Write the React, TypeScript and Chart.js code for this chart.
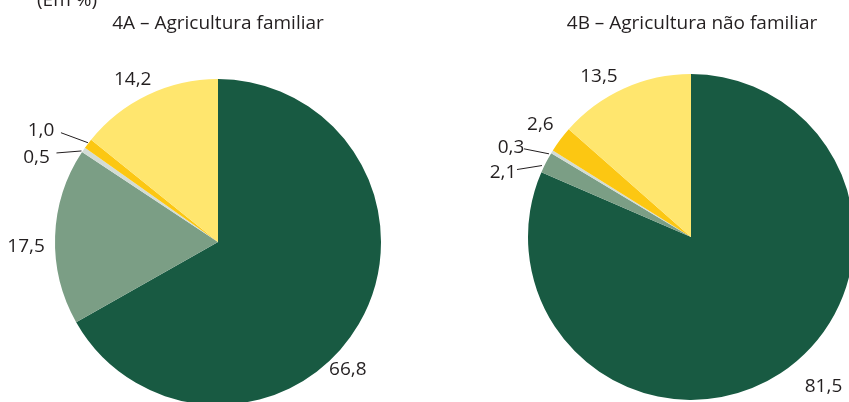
import React, { useEffect, useRef } from "react";
import { Chart, registerables } from "chart.js";

Chart.register(...registerables);

const categories = ["Cat. 1", "Cat. 2", "Cat. 3", "Cat. 4", "Cat. 5"];
const valuesA = [66.8, 17.5, 0.5, 1.0, 14.2];
const valuesB = [81.5, 2.1, 0.3, 2.6, 13.5];
const titleA = "4A – Agricultura familiar";
const titleB = "4B – Agricultura não familiar";
const unitLabel = "(Em %)";
const colors = ["#185a42", "#7b9e85", "#d3dcd5", "#fcc712", "#ffe66e"];

type LabelPos = { dx: number; dy: number; lx?: number; ly?: number; ex?: number; ey?: number };

// offsets of labels from the slice's outer edge midpoint
const labelPosA: LabelPos[] = [
  { dx: -11, dy: 46 },
  { dx: -29, dy: 10 },
  { dx: -47, dy: 8, lx: -27, ly: 3, ex: -2, ey: 1 },
  { dx: -47, dy: -13, lx: -27, ly: -11, ex: 0, ey: -1 },
  { dx: -15, dy: -15 },
];
const labelPosB: LabelPos[] = [
  { dx: 43, dy: 13 },
  { dx: -43, dy: 10, lx: -29, ly: 7, ex: -4, ey: 3 },
  { dx: -41, dy: -4, lx: -28, ly: -3, ex: -3, ey: 2 },
  { dx: -20, dy: -15 },
  { dx: -25, dy: -12 },
];

const FONT = "'Open Sans', sans-serif";
const fmt = (v: number) => v.toFixed(1).replace(".", ",");

function makeLabelPlugin(pos: LabelPos[]) {
  return {
    id: "sliceLabels",
    afterDraw(chart: any) {
      const ctx = chart.ctx;
      const meta = chart.getDatasetMeta(0);
      const data = chart.data.datasets[0].data as number[];
      ctx.save();
      ctx.font = "19px " + FONT;
      ctx.fillStyle = "#231f20";
      ctx.textAlign = "center";
      ctx.textBaseline = "middle";
      meta.data.forEach((arc: any, i: number) => {
        const mid = (arc.startAngle + arc.endAngle) / 2;
        const ex = arc.x + Math.cos(mid) * arc.outerRadius;
        const ey = arc.y + Math.sin(mid) * arc.outerRadius;
        const p = pos[i];
        ctx.fillText(fmt(data[i]), ex + p.dx, ey + p.dy);
        if (p.lx !== undefined) {
          ctx.beginPath();
          ctx.strokeStyle = "#231f20";
          ctx.lineWidth = 1;
          ctx.moveTo(ex + (p.lx as number), ey + (p.ly as number));
          ctx.lineTo(ex + (p.ex as number), ey + (p.ey as number));
          ctx.stroke();
        }
      });
      ctx.restore();
    },
  };
}

function PieChart(props: { values: number[]; pos: LabelPos[]; padding: any; width: number; height: number }) {
  const ref = useRef<HTMLCanvasElement>(null);
  useEffect(() => {
    if (!ref.current) return;
    const chart = new Chart(ref.current, {
      type: "pie",
      data: {
        labels: categories,
        datasets: [
          {
            data: props.values,
            backgroundColor: colors,
            borderWidth: 0,
          },
        ],
      },
      options: {
        animation: false,
        responsive: false,
        maintainAspectRatio: false,
        layout: { padding: props.padding },
        plugins: { legend: { display: false }, tooltip: { enabled: false }, title: { display: false } },
      },
      plugins: [makeLabelPlugin(props.pos)],
    });
    return () => chart.destroy();
  }, []);
  return <canvas ref={ref} width={props.width} height={props.height} style={{ width: props.width, height: props.height, display: "block" }} />;
}

export default function App() {
  const textStyle: React.CSSProperties = {
    position: "absolute",
    fontFamily: FONT,
    fontSize: 19,
    color: "#231f20",
    whiteSpace: "nowrap",
    lineHeight: "20px",
  };
  return (
    <div style={{ position: "fixed", left: 0, top: 0, width: 849, height: 402, overflow: "hidden", background: "#fff" }}>
      <div style={{ position: "absolute", left: 0, top: 0 }}>
        <PieChart values={valuesA} pos={labelPosA} width={424} height={420} padding={{ left: 55, right: 43, top: 79, bottom: 15 }} />
      </div>
      <div style={{ position: "absolute", left: 425, top: 0 }}>
        <PieChart values={valuesB} pos={labelPosB} width={440} height={420} padding={{ left: 103, right: 11, top: 74, bottom: 20 }} />
      </div>
      <div style={{ ...textStyle, left: 37, top: -11 }}>{unitLabel}</div>
      <div style={{ ...textStyle, left: 0, width: 436, textAlign: "center", top: 12 }}>{titleA}</div>
      <div style={{ ...textStyle, left: 474, width: 436, textAlign: "center", top: 12 }}>{titleB}</div>
    </div>
  );
}
